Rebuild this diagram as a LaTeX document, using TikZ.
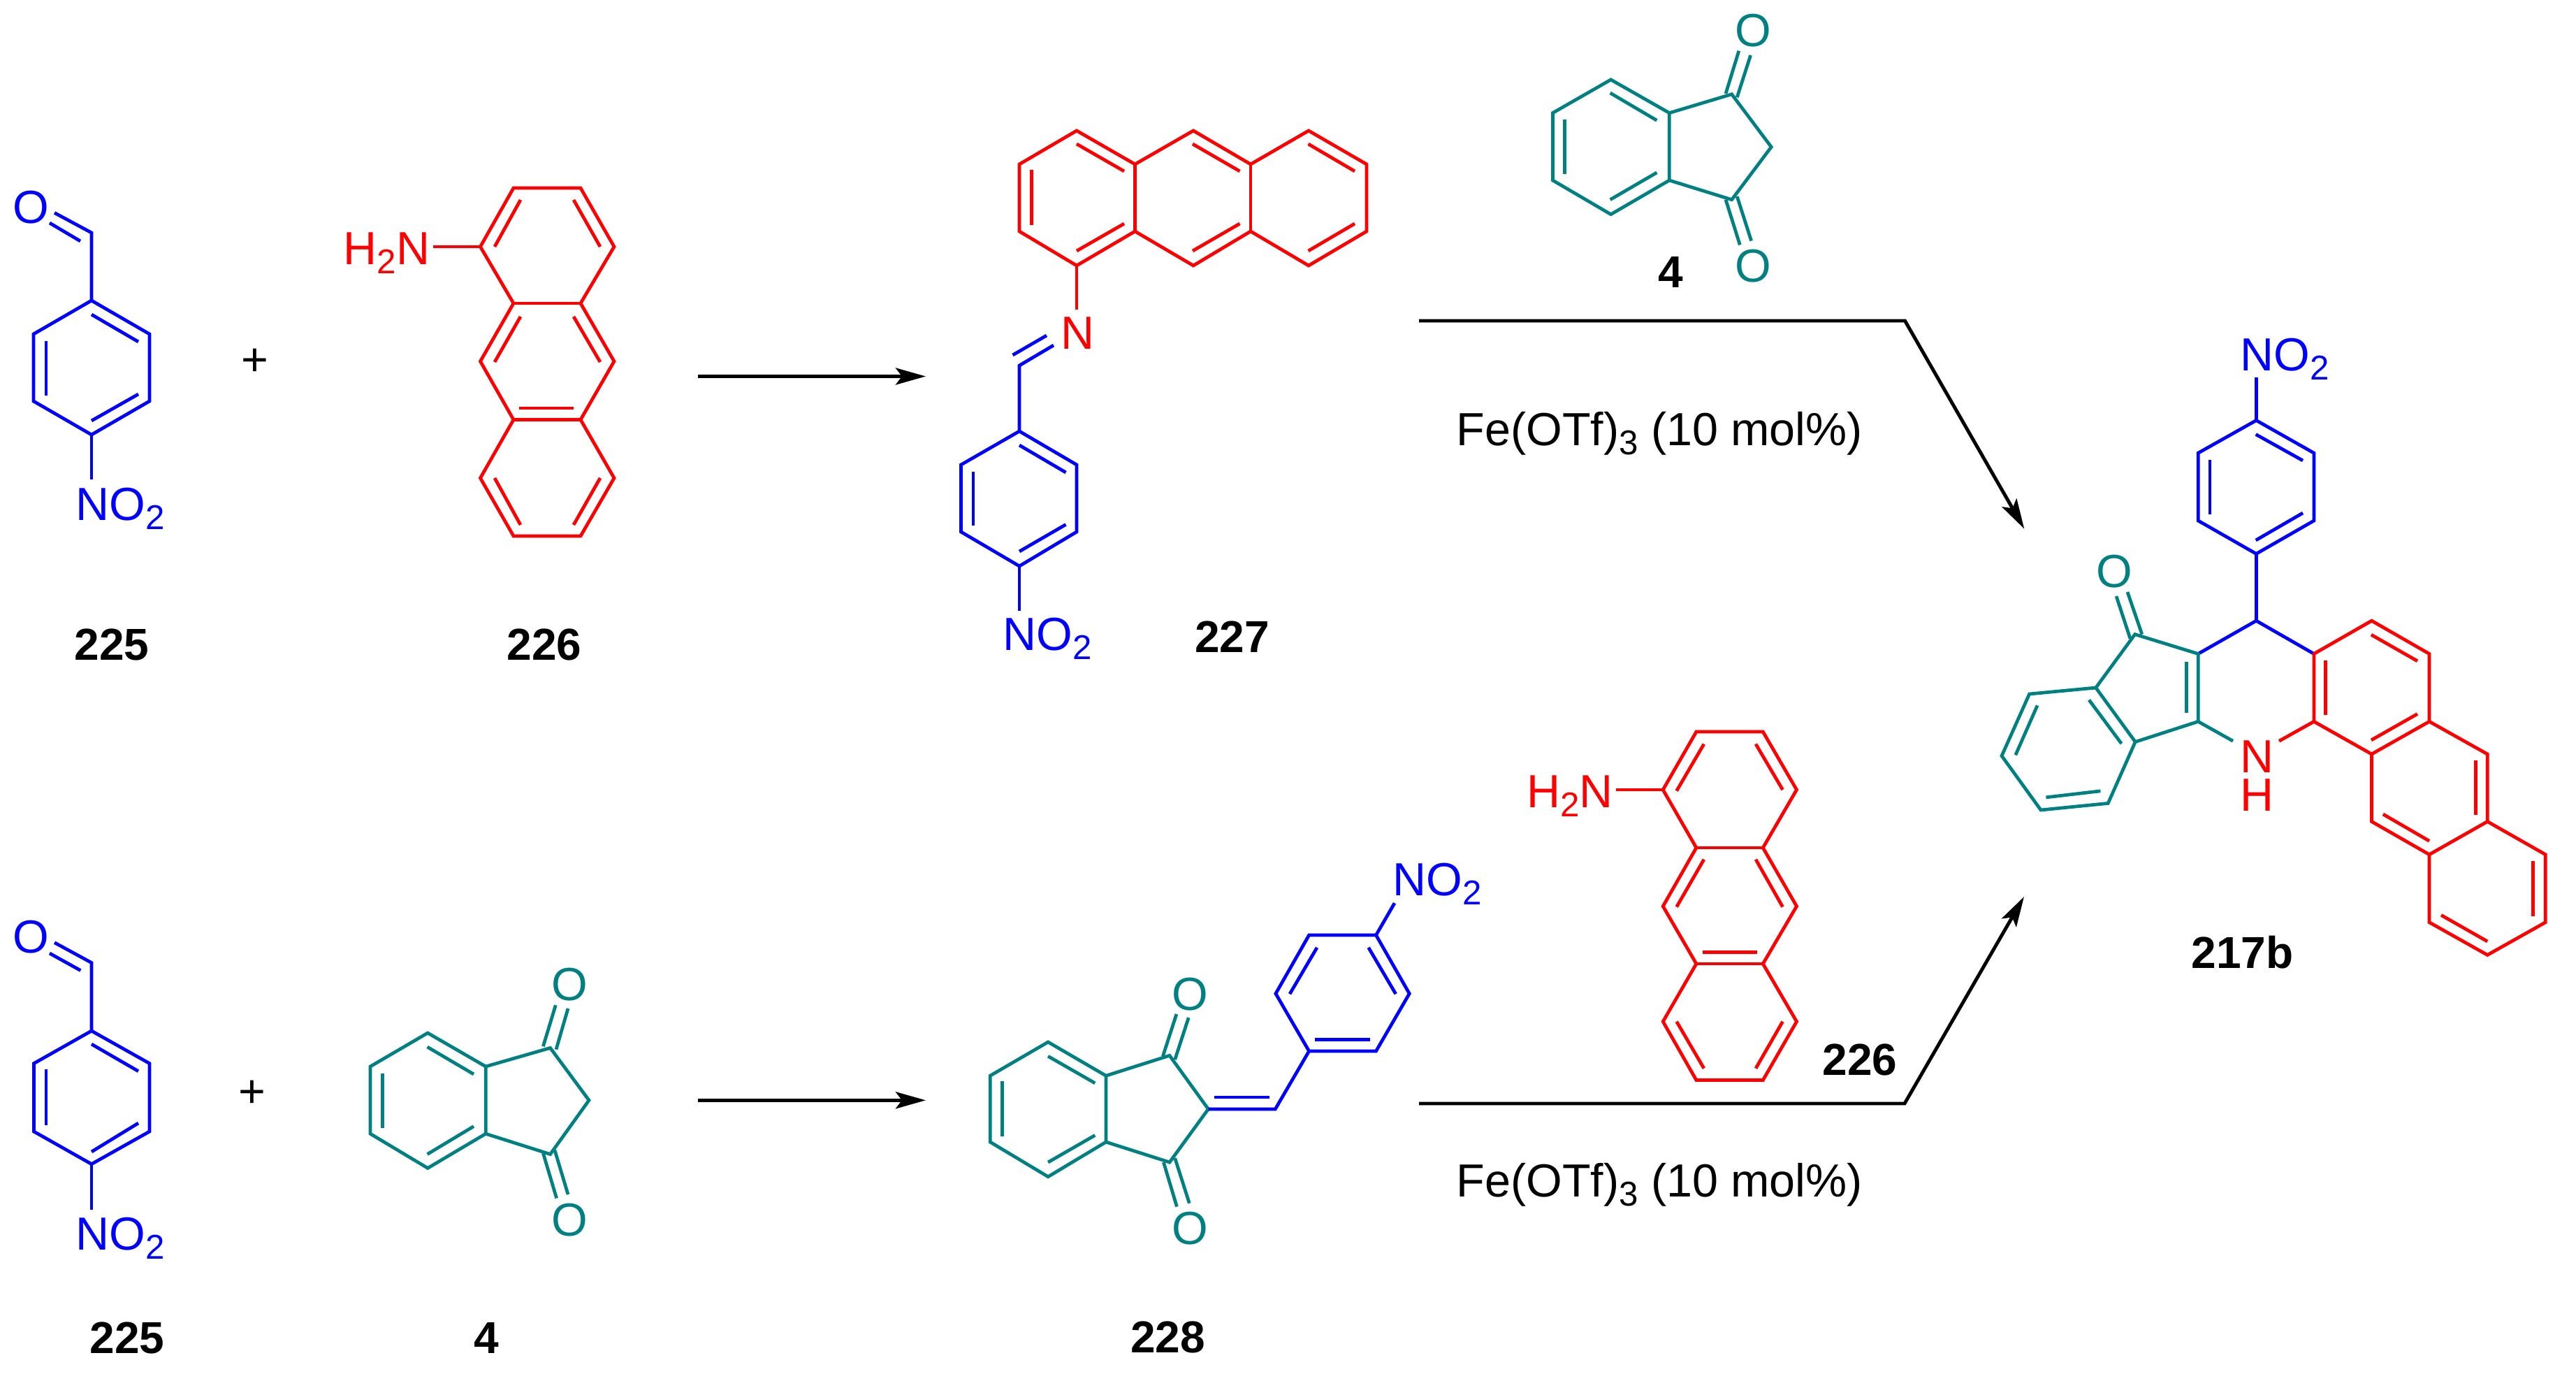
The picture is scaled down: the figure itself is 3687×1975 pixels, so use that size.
\documentclass[tikz,border=0pt]{standalone}
\usepackage{fontspec}
\setmainfont{Liberation Sans}
\usepackage{tikz}
\usetikzlibrary{arrows.meta}
\newcommand{\chemsub}[1]{\raisebox{-.2em}{\fontsize{14}{15}\selectfont #1}}
\tikzset{
  bond/.style={line width=1.35pt, line join=miter},
  rxn/.style={line width=1.4pt, line join=miter, -{Stealth[length=4.3mm, width=2.4mm, inset=0.9mm]}},
  atomw/.style={font=\fontsize{18.9}{20}\selectfont, inner sep=0pt, anchor=base west},
  atomb/.style={font=\fontsize{18.9}{20}\selectfont, inner sep=0pt, anchor=base},
  atomo/.style={font=\fontsize{18.9}{20}\selectfont, inner sep=0pt, anchor=center},
  cmpd/.style={font=\fontsize{18.2}{20}\selectfont\bfseries, inner sep=0pt, anchor=base},
  reagent/.style={font=\fontsize{18.9}{20}\selectfont, inner sep=0pt, anchor=base west}
}
\begin{document}
\begin{tikzpicture}[x=0.01cm, y=-0.01cm]
\useasboundingbox (0,0) rectangle (3687,1975);

\draw[bond,blue] (131,622) -- (214,574) -- (214,478) -- (131,430) -- (48,478) -- (48,574) -- cycle;
\draw[bond,blue] (131,430) -- (131,333) -- (78,304.5);
\draw[bond,blue] (131,622) -- (131,686);
\foreach \xa/\ya/\xb/\yb in {71/319/115/345, 131/450/198/489, 66/488/66/566, 131/602/198/564}
  {\draw[bond,blue] (\xa,\ya) -- (\xb,\yb);}
\node[atomo,blue] (o225a) at (44.6,297) {O};
\node[atomw,blue] (no225a) at (108,744) {NO\chemsub{2}};
\node[cmpd] (lab225a) at (160,944) {225};
\node[font=\fontsize{18.9}{20}\selectfont, inner sep=0pt] (plusa) at (365,518) {+};

\draw[bond,red] (735,269) -- (831,269) -- (879,353) -- (831,434) -- (879,517) -- (831,600.5) -- (879,684) -- (831,767) -- (735,767) -- (687.5,684) -- (735,600.5) -- (687.5,517) -- (735,434) -- (687.5,353) -- cycle;
\draw[bond,red] (735,434) -- (831,434);
\draw[bond,red] (735,600.5) -- (831,600.5);
\draw[bond,red] (620,353) -- (687.5,353);
\foreach \xa/\ya/\xb/\yb in {745/286/708/353, 821/286/859/353, 745/453/708/518, 821/453/859/518, 743/584/821/584, 708/684/745/751, 859/684/821/751}
  {\draw[bond,red] (\xa,\ya) -- (\xb,\yb);}
\node[atomw,red] (nh226a) at (491,378) {H\chemsub{2}N};
\node[cmpd] (lab226a) at (779,944) {226};

\coordinate (arra1) at (999,538.5);
\coordinate (arra2) at (1325,538.5);
\draw[rxn] (arra1) -- (arra2);

\draw[bond,red] (1459,235) -- (1541,187) -- (1624.5,235) -- (1708,187) -- (1790,235) -- (1873,187) -- (1956,235) -- (1956,331) -- (1873,380) -- (1790,331) -- (1708,380) -- (1624.5,331) -- (1541,380) -- (1459,331) -- cycle;
\draw[bond,red] (1624.5,235) -- (1624.5,331);
\draw[bond,red] (1790,235) -- (1790,331);
\draw[bond,red] (1541,380) -- (1541,443);
\foreach \xa/\ya/\xb/\yb in {1541/206/1609/245, 1476.5/243/1476.5/322, 1541/359/1609/320, 1707/206/1774.5/245, 1707/359/1774.5/320, 1872.5/206/1939/245, 1872.5/359/1939/320}
  {\draw[bond,red] (\xa,\ya) -- (\xb,\yb);}
\node[atomb,red] (n227) at (1542,499.5) {N};
\draw[bond,blue] (1508,494) -- (1459,523) -- (1459,617);
\draw[bond,blue] (1449.5,508) -- (1498,480);
\draw[bond,blue] (1459,617) -- (1541,665) -- (1541,761) -- (1459,810) -- (1375.5,761) -- (1375.5,665) -- cycle;
\draw[bond,blue] (1459,810) -- (1459,873.5);
\foreach \xa/\ya/\xb/\yb in {1459/637/1525.5/676, 1393/674.5/1393/752, 1459/789/1525.5/750.5}
  {\draw[bond,blue] (\xa,\ya) -- (\xb,\yb);}
\node[atomw,blue] (no227) at (1435,930.5) {NO\chemsub{2}};
\node[cmpd] (lab227) at (1763.5,933) {227};

\draw[bond,teal] (2305.6,114) -- (2389.3,161.6) -- (2389.3,258) -- (2305.6,306.7) -- (2222.4,258) -- (2222.4,161.6) -- cycle;
\draw[bond,teal] (2389.3,161.6) -- (2478.6,134.8) -- (2535.2,210.3) -- (2478.6,285.7) -- (2389.3,258);
\foreach \xa/\ya/\xb/\yb in {2304.6/133/2371.4/172.3, 2239.3/170.5/2239.3/249, 2304.6/285.7/2371.4/246.9, 2470/134/2488.8/72.8, 2486.2/139.3/2505.6/79, 2470/285.7/2490.3/350.4, 2486.2/281/2506.6/344.6}
  {\draw[bond,teal] (\xa,\ya) -- (\xb,\yb);}
\node[atomo,teal] (o4a) at (2509,43.8) {O};
\node[atomo,teal] (o4b) at (2509,380.8) {O};
\node[cmpd] (lab4a) at (2390.8,411.6) {4};

\coordinate (arrb1) at (2031,459);
\coordinate (arrb2) at (2726.5,459);
\coordinate (arrb3) at (2897.3,756.7);
\draw[rxn] (arrb1) -- (arrb2) -- (arrb3);
\node[reagent] (fea) at (2084,637.5) {Fe(OTf)\chemsub{3} (10 mol\%)};

\draw[bond,blue] (3229.3,601.5) -- (3311.9,648.2) -- (3311.9,745) -- (3229.3,792.4) -- (3146.2,745) -- (3146.2,648.2) -- cycle;
\draw[bond,blue] (3229.3,601.5) -- (3229.3,539.7);
\draw[bond,blue] (3229.3,792.4) -- (3229.3,888.2);
\draw[bond,blue] (3146.2,935.5) -- (3229.3,888.2) -- (3311.9,935.5);
\foreach \xa/\ya/\xb/\yb in {3228.7/621.5/3296/659, 3163/657.9/3163/736, 3228.7/773/3296/734}
  {\draw[bond,blue] (\xa,\ya) -- (\xb,\yb);}
\node[atomw,blue] (no217) at (3206,530) {NO\chemsub{2}};
\draw[bond,teal] (3146.2,935.5) -- (3146.2,1032.4) -- (3056.2,1061.5) -- (2999.7,984) -- (3055.7,907.6) -- cycle;
\draw[bond,teal] (2999.7,984) -- (2904.6,993) -- (2865,1081.5) -- (2921,1159) -- (3017.2,1149.4) -- (3056.2,1061.5);
\draw[bond,teal] (3146.2,1032.4) -- (3196,1060.3);
\foreach \xa/\ya/\xb/\yb in {3129.2/947/3129.2/1020.3, 2990/1001.5/3036.4/1064, 2916/1009.4/2884.8/1080.3, 2928.4/1140.9/3006.4/1131.8, 3048.9/913.6/3029/853, 3065.8/907.6/3045/847}
  {\draw[bond,teal] (\xa,\ya) -- (\xb,\yb);}
\node[atomo,teal] (o217) at (3026.2,817.9) {O};
\node[red, inner sep=0pt, anchor=center, align=center, font=\fontsize{18.9}{15.6}\selectfont] (nh217) at (3230,1110.5) {N\\H};
\draw[bond,red] (3262,1060.3) -- (3311.9,1032.4);
\draw[bond,red] (3311.9,935.5) -- (3394.5,888.2) -- (3477,935.5) -- (3477,1032.4) -- (3394.5,1079) -- (3311.9,1032.4) -- cycle;
\draw[bond,red] (3477,1032.4) -- (3560.2,1079) -- (3560.2,1175.5) -- (3477,1222.7) -- (3394.5,1175.5) -- (3394.5,1079);
\draw[bond,red] (3560.2,1175.5) -- (3643.3,1222.7) -- (3643.3,1319.7) -- (3560.2,1366.4) -- (3477,1319.7) -- (3477,1222.7);
\foreach \xa/\ya/\xb/\yb in {3328.8/944.5/3328.8/1022.7, 3393.9/908.2/3460/945.8, 3393.9/1059/3460/1021.5, 3543.8/1088/3543.8/1166.4, 3410.9/1165/3477/1203.3, 3625.8/1231.8/3625.8/1310.6, 3494/1309.4/3560.2/1347}
  {\draw[bond,red] (\xa,\ya) -- (\xb,\yb);}
\node[cmpd] (lab217) at (3209.5,1385) {217b};

\draw[bond,blue] (131,1665.6) -- (214,1619) -- (214,1521.6) -- (131,1475) -- (48.5,1521.6) -- (48.5,1619) -- cycle;
\draw[bond,blue] (131,1475) -- (131,1377.5) -- (78,1348.7);
\draw[bond,blue] (131,1665.6) -- (131,1731);
\foreach \xa/\ya/\xb/\yb in {71/1364/115.4/1388.6, 131/1494/198/1532.7, 66/1530.4/66/1610, 131/1648/198/1607}
  {\draw[bond,blue] (\xa,\ya) -- (\xb,\yb);}
\node[atomo,blue] (o225b) at (44.6,1341) {O};
\node[atomw,blue] (no225b) at (108,1788.4) {NO\chemsub{2}};
\node[cmpd] (lab225b) at (182,1936) {225};
\node[font=\fontsize{18.9}{20}\selectfont, inner sep=0pt] (plusb) at (361,1565) {+};

\draw[bond,teal] (612.2,1478) -- (695.2,1526) -- (695.2,1622.2) -- (612.2,1671.4) -- (530,1622.2) -- (530,1526) -- cycle;
\draw[bond,teal] (695.2,1526) -- (787.6,1499.4) -- (843,1574.3) -- (787.6,1651.5) -- (695.2,1622.2);
\foreach \xa/\ya/\xb/\yb in {611.6/1498/678/1537, 547.2/1536.2/547.2/1613.8, 611.6/1651.5/678/1611.6, 777.4/1497.2/795.3/1438.2, 796/1501.6/813/1443, 777.4/1650/796.6/1714.4, 794/1645.7/813/1709}
  {\draw[bond,teal] (\xa,\ya) -- (\xb,\yb);}
\node[atomo,teal] (o4c) at (815,1408.5) {O};
\node[atomo,teal] (o4d) at (815,1745.4) {O};
\node[cmpd] (lab4b) at (695.8,1936) {4};

\coordinate (arrc1) at (999,1574.3);
\coordinate (arrc2) at (1325,1574.3);
\draw[rxn] (arrc1) -- (arrc2);

\draw[bond,teal] (1500.1,1491) -- (1583,1539.2) -- (1583,1634) -- (1500.1,1683.7) -- (1417.2,1634) -- (1417.2,1539.2) -- cycle;
\draw[bond,teal] (1583,1539.2) -- (1674,1510.3) -- (1729.4,1586.9) -- (1674,1663) -- (1583,1634);
\foreach \xa/\ya/\xb/\yb in {1500.1/1511.3/1567.3/1549.8, 1434.6/1547.4/1434.6/1625.9, 1500.1/1663/1567.3/1624.4, 1664.4/1511.3/1683.9/1451, 1681.7/1516/1701.2/1456, 1665.4/1663/1684.4/1726.5, 1681.7/1657.2/1702.3/1721.7}
  {\draw[bond,teal] (\xa,\ya) -- (\xb,\yb);}
\node[atomo,teal] (o228a) at (1703.4,1422.2) {O};
\node[atomo,teal] (o228b) at (1703.4,1757.8) {O};
\draw[bond,blue] (1729.4,1586.9) -- (1825.3,1586.9) -- (1873.6,1504);
\draw[bond,blue] (1873.6,1504) -- (1969.5,1504) -- (2017.2,1421.7) -- (1969.5,1338) -- (1873.6,1338) -- (1825.9,1421.7) -- cycle;
\draw[bond,blue] (1969.5,1338) -- (1996,1292.2);
\foreach \xa/\ya/\xb/\yb in {1737.5/1570/1817.2/1570, 1882.2/1487.2/1961.4/1487.2, 1846/1422.2/1885/1355.8, 1958.7/1355.8/1997.7/1422.2}
  {\draw[bond,blue] (\xa,\ya) -- (\xb,\yb);}
\node[atomw,blue] (no228) at (1992.7,1281) {NO\chemsub{2}};
\node[cmpd] (lab228) at (1671.7,1935) {228};

\draw[bond,red] (2427.9,1047) -- (2523.3,1047) -- (2571.5,1130) -- (2523.3,1213) -- (2571.5,1296.7) -- (2523.3,1379) -- (2571.5,1461.7) -- (2523.3,1545.5) -- (2427.9,1545.5) -- (2380.2,1461.7) -- (2427.9,1379) -- (2380.2,1296.7) -- (2427.9,1213) -- (2380.2,1130) -- cycle;
\draw[bond,red] (2427.9,1213) -- (2523.3,1213);
\draw[bond,red] (2427.9,1379) -- (2523.3,1379);
\draw[bond,red] (2312.5,1130) -- (2380.2,1130);
\foreach \xa/\ya/\xb/\yb in {2438.8/1064.6/2399.7/1131.6, 2513/1064.6/2551.5/1130, 2438.8/1229.7/2399.7/1297.6, 2513/1229.7/2551.5/1297.6, 2437/1362.2/2515.2/1362.2, 2399.7/1461.7/2438.8/1528.7, 2551.5/1461.7/2513/1528.7}
  {\draw[bond,red] (\xa,\ya) -- (\xb,\yb);}
\node[atomw,red] (nh226b) at (2184.4,1155.5) {H\chemsub{2}N};
\node[cmpd] (lab226b) at (2662,1538) {226};

\coordinate (arrd1) at (2031,1579);
\coordinate (arrd2) at (2726,1579);
\coordinate (arrd3) at (2897,1283);
\draw[rxn] (arrd1) -- (arrd2) -- (arrd3);
\node[reagent] (feb) at (2084,1712) {Fe(OTf)\chemsub{3} (10 mol\%)};
\end{tikzpicture}
\end{document}
